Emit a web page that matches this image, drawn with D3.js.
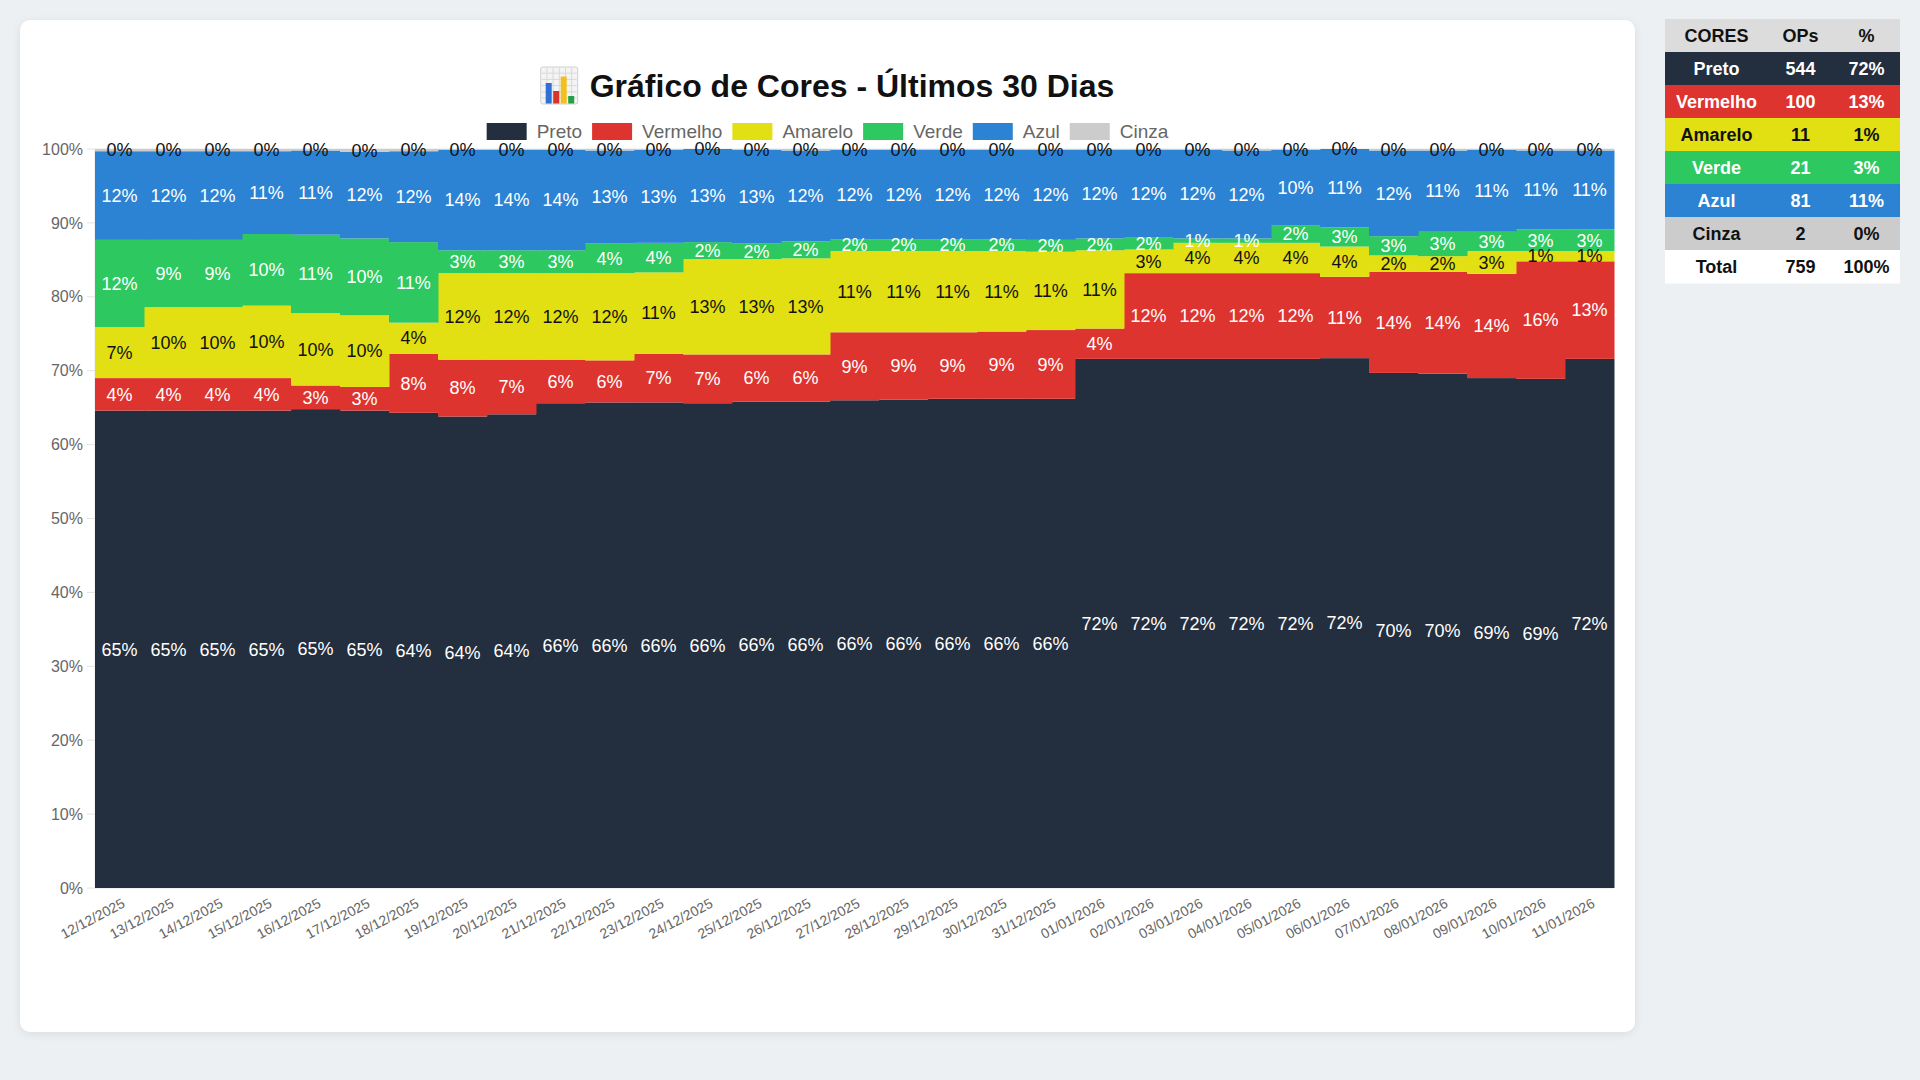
<!DOCTYPE html>
<html lang="pt-BR">
<head>
<meta charset="utf-8">
<title>Gráfico de Cores - Últimos 30 Dias</title>
<script src="https://cdn.jsdelivr.net/npm/d3@7"></script>
<style>
    html, body { margin: 0; padding: 0; }
    body {
        width: 1920px; height: 1080px; overflow: hidden;
        background: #edf0f3;
        font-family: "Liberation Sans", Arial, Helvetica, sans-serif;
        position: relative;
    }
    .card {
        position: absolute; left: 20px; top: 20px;
        width: 1615px; height: 1012px;
        background: #fff; border-radius: 10px;
        box-shadow: 0 2px 10px rgba(0, 0, 0, 0.08);
    }
    #chart { position: absolute; left: 0; top: 0; }
</style>
</head>
<body>
<div class="card"></div>
<svg id="chart" width="1920" height="1080"></svg>
<script>
// dias do período
const dias = [
    "12/12/2025", "13/12/2025", "14/12/2025", "15/12/2025", "16/12/2025", "17/12/2025",
    "18/12/2025", "19/12/2025", "20/12/2025", "21/12/2025", "22/12/2025", "23/12/2025",
    "24/12/2025", "25/12/2025", "26/12/2025", "27/12/2025", "28/12/2025", "29/12/2025",
    "30/12/2025", "31/12/2025", "01/01/2026", "02/01/2026", "03/01/2026", "04/01/2026",
    "05/01/2026", "06/01/2026", "07/01/2026", "08/01/2026", "09/01/2026", "10/01/2026",
    "11/01/2026"
];

// percentual diário de cada cor
const preto = [64.6, 64.6, 64.6, 64.6, 64.8, 64.6, 64.3, 63.8, 64.1, 65.6, 65.7, 65.7, 65.6, 65.8, 65.8, 66.0,
    66.1, 66.2, 66.2, 66.2, 71.6, 71.6, 71.6, 71.6, 71.6, 71.7, 69.7, 69.6, 69.0, 68.9, 71.6];
const vermelho = [4.4, 4.4, 4.4, 4.4, 3.2, 3.2, 8.0, 7.7, 7.4, 5.9, 5.7, 6.6, 6.6, 6.4, 6.4, 9.2,
    9.1, 9.0, 9.1, 9.3, 4.1, 11.6, 11.6, 11.6, 11.6, 11.0, 13.7, 13.8, 14.1, 15.9, 13.2];
const amarelo = [6.9, 9.6, 9.6, 9.8, 9.8, 9.7, 4.2, 11.7, 11.7, 11.7, 11.8, 11.0, 12.9, 12.9, 13.0, 11.0,
    11.0, 11.0, 10.9, 10.6, 10.6, 3.2, 4.1, 4.1, 4.1, 4.1, 2.2, 2.1, 3.1, 1.4, 1.4];
const verde = [11.8, 9.1, 9.1, 9.7, 10.6, 10.4, 10.9, 3.1, 3.1, 3.1, 4.0, 4.0, 2.3, 2.1, 2.3, 1.6,
    1.6, 1.6, 1.6, 1.6, 1.6, 1.6, 0.6, 0.6, 2.4, 2.6, 2.6, 3.3, 2.6, 2.9, 2.9];
const azul = [12.0, 12.0, 12.0, 11.2, 11.4, 11.7, 12.3, 13.6, 13.6, 13.6, 12.6, 12.6, 12.6, 12.7, 12.3, 12.1,
    12.1, 12.1, 12.1, 12.2, 12.0, 11.9, 12.0, 11.9, 10.2, 10.6, 11.6, 11.0, 11.1, 10.7, 10.7];
const cinza = [0.3, 0.3, 0.3, 0.3, 0.2, 0.4, 0.3, 0.1, 0.1, 0.1, 0.2, 0.1, 0.0, 0.1, 0.2, 0.1,
    0.1, 0.1, 0.1, 0.1, 0.1, 0.1, 0.1, 0.2, 0.1, 0.0, 0.2, 0.2, 0.1, 0.2, 0.2];

const cores = ["Preto", "Vermelho", "Amarelo", "Verde", "Azul", "Cinza"];
const yTicks = [0, 10, 20, 30, 40, 50, 60, 70, 80, 90, 100];

// tabela de resumo
const tabelaCab = ["CORES", "OPs", "%"];
const tabelaOps = [544, 100, 11, 21, 81, 2];
const tabelaPct = [72, 13, 1, 3, 11, 0];
const totalOps = 759;
const totalPct = 100;

const fundo = { Preto: "#232e3e", Vermelho: "#de3430", Amarelo: "#e2df12", Verde: "#2ec860", Azul: "#2c83d4", Cinza: "#cccccc" };
const texto = { Preto: "#fff", Vermelho: "#fff", Amarelo: "#111", Verde: "#fff", Azul: "#fff", Cinza: "#111" };

const serieValores = { Preto: preto, Vermelho: vermelho, Amarelo: amarelo, Verde: verde, Azul: azul, Cinza: cinza };
const linhas = dias.map((d, i) => {
    const row = { dia: d };
    cores.forEach(c => row[c] = serieValores[c][i]);
    return row;
});

const svg = d3.select("#chart");
const font = '"Liberation Sans", Arial, Helvetica, sans-serif';

// area do gráfico
const plot = { left: 95, right: 1614, top: 149, bottom: 888 };

const x = d3.scaleBand().domain(dias).range([plot.left, plot.right]).padding(0);
const y = d3.scaleLinear().domain([0, 100]).range([plot.bottom, plot.top]);

// grid
svg.append("g")
    .selectAll("line")
    .data(yTicks)
    .join("line")
    .attr("x1", plot.left - 8)
    .attr("x2", plot.right)
    .attr("y1", d => y(d))
    .attr("y2", d => y(d))
    .attr("stroke", "#e4e4e4")
    .attr("stroke-width", 1);

svg.append("line")
    .attr("x1", plot.left).attr("x2", plot.left)
    .attr("y1", plot.top).attr("y2", plot.bottom)
    .attr("stroke", "#e4e4e4");

// eixo y
svg.append("g")
    .selectAll("text")
    .data(yTicks)
    .join("text")
    .attr("x", plot.left - 12)
    .attr("y", d => y(d))
    .attr("dy", "0.35em")
    .attr("text-anchor", "end")
    .attr("font-family", font)
    .attr("font-size", 16)
    .attr("fill", "#666")
    .text(d => d + "%");

// eixo x
svg.append("g")
    .selectAll("text")
    .data(dias)
    .join("text")
    .attr("transform", d => `translate(${x(d) + x.bandwidth() / 2 + 4},${plot.bottom + 14}) rotate(-28)`)
    .attr("dy", "0.35em")
    .attr("text-anchor", "end")
    .attr("font-family", font)
    .attr("font-size", 14)
    .attr("fill", "#666")
    .text(d => d);

// barras empilhadas
const series = d3.stack().keys(cores)(linhas);

const camadas = svg.append("g")
    .selectAll("g")
    .data(series)
    .join("g")
    .attr("fill", s => fundo[s.key]);

camadas.selectAll("rect")
    .data(s => s)
    .join("rect")
    .attr("x", d => x(d.data.dia))
    .attr("width", x.bandwidth() + 0.5)
    .attr("y", d => y(Math.min(100, d[1])))
    .attr("height", d => Math.max(0, y(d[0]) - y(Math.min(100, d[1]))));

// rótulos de percentual
series.forEach(s => {
    svg.append("g")
        .selectAll("text")
        .data(s)
        .join("text")
        .attr("x", d => x(d.data.dia) + x.bandwidth() / 2)
        .attr("y", d => (y(d[0]) + y(Math.min(100, d[1]))) / 2)
        .attr("dy", "0.35em")
        .attr("text-anchor", "middle")
        .attr("font-family", font)
        .attr("font-size", 18)
        .attr("fill", texto[s.key])
        .text(d => Math.round(d[1] - d[0]) + "%");
});

// título com ícone
const titulo = svg.append("g");
const tituloTxt = titulo.append("text")
    .attr("y", 97)
    .attr("font-family", font)
    .attr("font-size", 32)
    .attr("font-weight", "bold")
    .attr("fill", "#111")
    .text("Gráfico de Cores - Últimos 30 Dias");
const tw = tituloTxt.node().getComputedTextLength();
const iconW = 37, gap = 12;
const tStart = 827.5 - (iconW + gap + tw) / 2;
tituloTxt.attr("x", tStart + iconW + gap);

const icon = titulo.append("g").attr("transform", `translate(${tStart},67)`);
icon.append("rect").attr("width", 37).attr("height", 37).attr("rx", 2)
    .attr("fill", "#f4f4f4").attr("stroke", "#cfcfcf");
d3.range(1, 6).forEach(i => {
    icon.append("line").attr("x1", i * 6.2).attr("x2", i * 6.2).attr("y1", 1).attr("y2", 36).attr("stroke", "#d8d8d8");
    icon.append("line").attr("y1", i * 6.2).attr("y2", i * 6.2).attr("x1", 1).attr("x2", 36).attr("stroke", "#d8d8d8");
});
[["#2f6fd6", 5, 16], ["#d9342b", 12.5, 24], ["#f2c01c", 20, 9.5], ["#25a046", 27.5, 29]].forEach(b => {
    icon.append("rect").attr("x", b[1]).attr("y", b[2]).attr("width", 6).attr("height", 36.5 - b[2]).attr("fill", b[0]);
});

// legenda
const legenda = svg.append("g");
let lx = 0;
cores.forEach(c => {
    const g = legenda.append("g").attr("transform", `translate(${lx},0)`);
    g.append("rect").attr("width", 40).attr("height", 17).attr("y", -8.5).attr("fill", fundo[c]);
    const t = g.append("text")
        .attr("x", 50)
        .attr("dy", "0.35em")
        .attr("font-family", font)
        .attr("font-size", 19)
        .attr("fill", "#666")
        .text(c);
    lx += 50 + t.node().getComputedTextLength() + 10;
});
legenda.attr("transform", `translate(${827.5 - (lx - 10) / 2},131.5)`);

// tabela de resumo
const tab = { x: 1665, y: 19, rowH: 33, cols: [1665, 1768, 1833, 1900] };
const linhasTab = [
    { bg: "#dcdcdc", fg: "#111", vals: tabelaCab },
    ...cores.map((c, i) => ({ bg: fundo[c], fg: texto[c], vals: [c, tabelaOps[i], tabelaPct[i] + "%"] })),
    { bg: "#ffffff", fg: "#111", vals: ["Total", totalOps, totalPct + "%"] }
];
const tabela = svg.append("g");
linhasTab.forEach((r, i) => {
    const ry = tab.y + i * tab.rowH;
    tabela.append("rect")
        .attr("x", tab.cols[0]).attr("y", ry)
        .attr("width", tab.cols[3] - tab.cols[0]).attr("height", tab.rowH + 0.5)
        .attr("fill", r.bg);
    r.vals.forEach((v, j) => {
        tabela.append("text")
            .attr("x", (tab.cols[j] + tab.cols[j + 1]) / 2)
            .attr("y", ry + tab.rowH / 2)
            .attr("dy", "0.35em")
            .attr("text-anchor", "middle")
            .attr("font-family", font)
            .attr("font-size", 18)
            .attr("font-weight", "bold")
            .attr("fill", r.fg)
            .text(v);
    });
});
</script>
</body>
</html>
